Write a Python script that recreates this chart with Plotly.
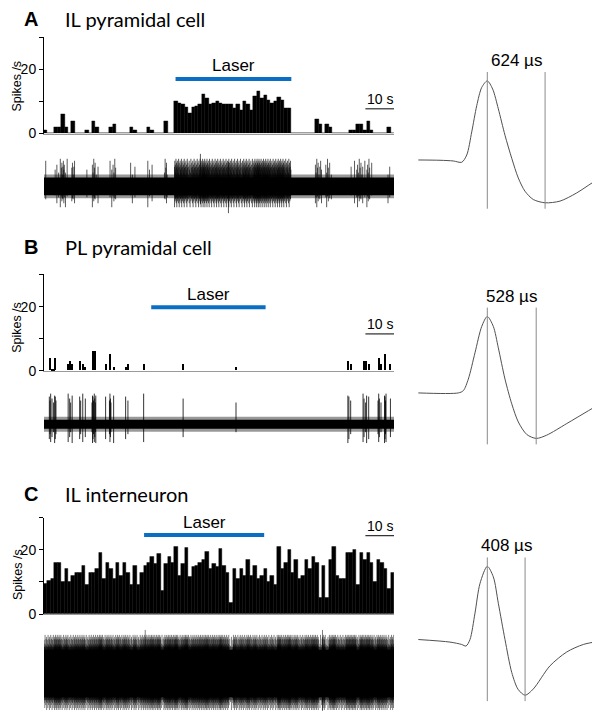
import plotly.graph_objects as go

# page is shown with an 8 px body margin, so the figure is placed 8 px in
OFF = 8
W, H = 600 - OFF, 720 - OFF

# ---------------- data ----------------
BIN = 1.2          # s, histogram bin (panels A and C)
N_BINS = 102
T_END = BIN * N_BINS

A_RATES = [1, 0, 0, 2, 2, 6, 2, 0, 4, 0, 0, 0, 1, 0, 4, 2, 0, 0, 0, 2,
           3, 0, 0, 0, 0, 2, 1, 0, 0, 0, 2, 1, 0, 0, 0, 4, 0, 0,
           10.2, 9.5, 9.2, 8.2, 6.4, 8.2, 8.5, 9.2, 12.3, 11, 9, 9.5, 10.2, 9.5, 9, 9, 9, 8, 9, 7.3,
           10.2, 9.2, 7.3, 11.5, 13.3, 11, 12, 10.5, 9.5, 10.2, 11.2, 10.5, 8, 8,
           0, 0, 0, 0, 0, 0, 0, 4.5, 3, 0, 3, 2, 0, 0, 0, 0, 0, 1, 1, 3, 3, 1, 4, 1,
           0, 0, 0, 0, 2, 0]

B_TIMES = [1.75, 2.45, 3.0, 3.6, 8.1, 8.8, 9.5, 12.3, 13.2, 14.1, 16.7, 17.5, 21.2, 22.8, 24.0,
           28.2, 29.0, 34.5, 48.3, 66.8, 106.1, 106.9, 111.4, 112.3, 113.2, 116.7, 117.5,
           119.0, 120.8]
B_RATES = [4, 0.5, 0.5, 4, 2, 3, 2, 3, 2, 1, 6, 6, 2, 5, 1, 1, 2, 2, 2, 1, 3, 2, 3, 3, 2, 4, 2, 5, 2]
B_BAR_W = 0.7

C_RATES = [9.5, 10.5, 11, 16, 16, 10, 14, 10, 12, 13, 13, 15, 9, 13, 13, 14, 19, 11, 16, 14,
           11, 16, 12, 16, 13, 9, 15, 9, 13, 15, 16, 18, 15.7, 18.8, 7.3, 15.7, 18, 16, 21, 12,
           15.7, 20.8, 11.6, 14.6, 15, 16, 17, 19.3, 14, 15.7, 14.6, 20.3, 15, 13, 3.4,
           14, 11, 14, 12, 17, 12, 15, 11, 12, 14, 10, 12, 9, 21, 14, 16, 20, 13, 17, 11,
           12, 17, 14, 18, 16,
           5, 15, 5, 17, 21, 12, 11, 11, 19, 19, 20, 9, 19, 17, 19, 16, 10, 17, 16, 14, 8, 13]

LASER_A = (46, 86.5)
LASER_B = (37.5, 77.5)
LASER_C = (35, 77)
SCALE_BAR_S = 10

# raw trace: noise band half-width and spike amplitude cycles (trace units)
A_NOISE, B_NOISE, C_NOISE = 9, 4.5, 24
A_UP = [26, 17, 22, 14, 28, 19, 24, 12, 20]
A_DOWN = [13, 9, 17, 11, 21, 10, 15, 12]
B_UP = [28, 24, 31, 26, 22, 29]
B_DOWN = [15, 10, 18, 13, 8, 19]
C_UP = [34, 27, 30, 39, 26, 29, 35, 28, 37, 25]
C_DOWN = [30, 25, 35, 27, 24, 32, 26, 29, 37, 25]
A_BIG_T, A_BIG_UP, A_BIG_DOWN = [54.7, 64.5], [33, 25], [18, 27]
C_BIG_T, C_BIG_UP, C_BIG_DOWN = [35.4, 97.4], [44, 44], [24, 38]

# spike waveforms: time (us, relative to peak), amplitude
WAVE_A_T = [-745, -511, -367, -276, -222, -168, -114, -60, 0, 58, 119, 191, 264, 335, 407, 497, 624, 785, 966, 1217, 1433]
WAVE_A_V = [0, -0.3, -1, -2.3, 5, 28.4, 55, 73.4, 80, 71.7, 51.7, 25, 1.7, -18.3, -31.6, -40, -43.3, -41.6, -33.3, -18.3, -10.3]
WAVE_B_T = [-745, -313, -259, -205, -133, -60, 0, 65, 119, 191, 264, 335, 426, 528, 642, 858, 1217]
WAVE_B_V = [0, 0, 2.3, 14, 40.6, 67.3, 77.3, 67.3, 45.6, 14, -11, -29.4, -42, -46, -42.7, -31, -11]
WAVE_C_T = [-745, -403, -276, -230, -187, -133, -79, 0, 65, 119, 191, 264, 332, 408, 497, 677, 858, 1037, 1217]
WAVE_C_V = [0, -2.6, -5, -6.6, 0, 26.7, 56.7, 74, 63.4, 36.7, 0, -33.3, -50.3, -56.3, -50, -26.6, -12.6, -5, -1.6]
DURATIONS = [624, 528, 408]

TITLES = [("A", "IL pyramidal cell"), ("B", "PL pyramidal cell"), ("C", "IL interneuron")]

# ---------------- layout helpers ----------------
BLUE = "#0A6FC4"
SANS = "Liberation Sans, Arial, sans-serif"
HIST_X = (44, 394)


def xd(a, b):
    return [max(0, (a - OFF) / W), min(1, (b - OFF) / W)]


def yd(top, bot):
    return [max(0, 1 - (bot - OFF) / H), min(1, 1 - (top - OFF) / H)]


def px(x):
    return (x - OFF) / W


def py(y):
    return 1 - (y - OFF) / H


def spikes(starts, rates, width, up, down, big_t=(), big_up=(), big_down=()):
    xs, ys = [], []
    k = 0
    for t0, r in zip(starts, rates):
        if r <= 0:
            continue
        n = max(1, int(round(r * width)))
        for j in range(n):
            t = t0 + (j + 0.5) * width / n
            xs += [t, t, None]
            ys += [-down[k % len(down)], up[k % len(up)], None]
            k += 1
    for t, u, d in zip(big_t, big_up, big_down):
        xs += [t, t, None]
        ys += [-d, u, None]
    return xs, ys


fig = go.Figure()
layout = dict(width=W, height=H, margin=dict(l=0, r=0, t=0, b=0),
              paper_bgcolor="white", plot_bgcolor="rgba(0,0,0,0)",
              showlegend=False, bargap=0)
annotations, shapes = [], []

# panel geometry (page pixels)
PANELS = [
    dict(hist=(37.5, 135), trace=(148, 229, 188.5), wave=(40, 240, 161.7), title_y=19.5, ylab_y=87,
         laser_y=17, scale_y=7.7),
    dict(hist=(277.5, 375), trace=(389, 469, 429), wave=(280, 480, 397.3), title_y=250, ylab_y=331,
         laser_y=19.8, scale_y=11.5),
    dict(hist=(523.5, 621), trace=(630, 720, 681), wave=(500, 720, 646.7), title_y=500, ylab_y=581,
         laser_y=24.6, scale_y=24.4),
]

hist_bins = [(i + 0.5) * BIN for i in range(N_BINS)]
bin_starts = [i * BIN for i in range(N_BINS)]
lasers = [LASER_A, LASER_B, LASER_C]
waves = [(WAVE_A_T, WAVE_A_V), (WAVE_B_T, WAVE_B_V), (WAVE_C_T, WAVE_C_V)]
noise = [A_NOISE, B_NOISE, C_NOISE]
spk = [
    spikes(bin_starts, A_RATES, BIN, A_UP, A_DOWN, A_BIG_T, A_BIG_UP, A_BIG_DOWN),
    spikes(B_TIMES, B_RATES, B_BAR_W, B_UP, B_DOWN),
    spikes(bin_starts, C_RATES, BIN, C_UP, C_DOWN, C_BIG_T, C_BIG_UP, C_BIG_DOWN),
]
spike_alpha = [0.65, 0.8, 0.5]

for p, P in enumerate(PANELS):
    n = 3 * p
    hx, hy = ("x" if n == 0 else "x%d" % (n + 1)), ("y" if n == 0 else "y%d" % (n + 1))
    tx, ty = "x%d" % (n + 2), "y%d" % (n + 2)
    wx, wy = "x%d" % (n + 3), "y%d" % (n + 3)
    hxk = "xaxis" if n == 0 else "xaxis%d" % (n + 1)
    hyk = "yaxis" if n == 0 else "yaxis%d" % (n + 1)

    # ---- histogram ----
    if p == 1:
        fig.add_trace(go.Bar(x=[t + B_BAR_W / 2 for t in B_TIMES], y=B_RATES, width=B_BAR_W,
                             marker=dict(color="black", line=dict(width=0)), xaxis=hx, yaxis=hy))
    else:
        rates = A_RATES if p == 0 else C_RATES
        fig.add_trace(go.Bar(x=hist_bins, y=rates, width=BIN,
                             marker=dict(color="black", line=dict(color="black", width=0.4)),
                             xaxis=hx, yaxis=hy))
    layout[hxk] = dict(domain=xd(*HIST_X), range=[0, T_END], anchor=hy, showgrid=False,
                       zeroline=False, showticklabels=False, ticks="", showline=True,
                       linecolor="#9a9a9a", linewidth=1)
    layout[hyk] = dict(domain=yd(*P["hist"]), range=[0, 30], anchor=hx, showgrid=False,
                       zeroline=False, showline=True, linecolor="black", linewidth=1,
                       ticks="outside", ticklen=4, tickcolor="black", tickwidth=1,
                       tickvals=[0, 10, 20, 30], ticktext=["0", "", "20", ""],
                       tickfont=dict(family=SANS, size=14, color="black"))

    # laser bar + label
    l0, l1 = lasers[p]
    shapes.append(dict(type="line", xref=hx, yref=hy, x0=l0, x1=l1, y0=P["laser_y"], y1=P["laser_y"],
                       line=dict(color=BLUE, width=4)))
    annotations.append(dict(text="Laser", xref=hx, yref=hy, x=(l0 + l1) / 2, y=P["laser_y"],
                            yshift=13, showarrow=False, xanchor="center", yanchor="middle",
                            font=dict(family=SANS, size=17, color="black")))
    # 10 s scale bar
    s1 = T_END
    s0 = s1 - SCALE_BAR_S
    shapes.append(dict(type="line", xref=hx, yref=hy, x0=s0, x1=s1, y0=P["scale_y"], y1=P["scale_y"],
                       line=dict(color="black", width=1)))
    annotations.append(dict(text="10 s", xref=hx, yref=hy, x=(s0 + s1) / 2, y=P["scale_y"],
                            yshift=10, showarrow=False, xanchor="center", yanchor="middle",
                            font=dict(family=SANS, size=14, color="black")))

    # ---- raw trace ----
    top, bot, ctr = P["trace"]
    nb = noise[p]
    fr = nb + 3
    fig.add_trace(go.Scatter(x=[0, T_END, T_END, 0, 0], y=[fr, fr, -fr, -fr, fr], fill="toself",
                             fillcolor="rgba(0,0,0,0.4)", line=dict(width=0), mode="lines",
                             hoverinfo="skip", xaxis=tx, yaxis=ty))
    fig.add_trace(go.Scatter(x=[0, T_END, T_END, 0, 0], y=[nb, nb, -nb, -nb, nb], fill="toself",
                             fillcolor="black", line=dict(width=0), mode="lines",
                             hoverinfo="skip", xaxis=tx, yaxis=ty))
    sx, sy = spk[p]
    fig.add_trace(go.Scatter(x=sx, y=sy, mode="lines",
                             line=dict(color="rgba(0,0,0,%.2f)" % spike_alpha[p], width=1),
                             hoverinfo="skip", xaxis=tx, yaxis=ty))
    layout["xaxis%d" % (n + 2)] = dict(domain=xd(*HIST_X), range=[0, T_END], anchor=ty, visible=False)
    layout["yaxis%d" % (n + 2)] = dict(domain=yd(top, bot), range=[ctr - bot, ctr - top], anchor=tx,
                                       visible=False)

    # ---- waveform ----
    wt, wv = waves[p]
    wtop, wbot, wbase = P["wave"]
    us_per_px = 10.8
    fig.add_trace(go.Scatter(x=wt, y=wv, mode="lines",
                             line=dict(color="#505050", width=1, shape="spline", smoothing=0.8),
                             hoverinfo="skip", xaxis=wx, yaxis=wy))
    dur = DURATIONS[p]
    vtop, vbot = max(wv) + 9, min(wv) - 6
    for xv in (0, dur):
        shapes.append(dict(type="line", xref=wx, yref=wy, x0=xv, x1=xv, y0=vbot, y1=vtop,
                           line=dict(color="#8a8a8a", width=1)))
    annotations.append(dict(text="%d \u00b5s" % dur, xref=wx, yref=wy, x=dur / 2, y=vtop, yshift=0,
                            showarrow=False, xanchor="center", yanchor="bottom",
                            font=dict(family=SANS, size=17, color="black")))
    layout["xaxis%d" % (n + 3)] = dict(domain=xd(400, 600),
                                       range=[(400 - 487.3) * us_per_px, (600 - 487.3) * us_per_px],
                                       anchor=wy, visible=False)
    layout["yaxis%d" % (n + 3)] = dict(domain=yd(wtop, wbot), range=[wbase - wbot, wbase - wtop],
                                       anchor=wx, visible=False)

    # ---- titles and y label ----
    letter, title = TITLES[p]
    annotations.append(dict(text="<b>%s</b>" % letter, x=px(31), y=py(P["title_y"]), xref="paper",
                            yref="paper", xanchor="center", yanchor="middle", showarrow=False,
                            font=dict(family=SANS, size=20, color="black")))
    annotations.append(dict(text=title, x=px(63), y=py(P["title_y"]), xref="paper", yref="paper",
                            xanchor="left", yanchor="middle", showarrow=False,
                            font=dict(family="Lato", size=20, color="black")))
    annotations.append(dict(text="Spikes /s", x=px(8.5), y=py(P["ylab_y"]), xref="paper",
                            yref="paper", xanchor="left", yanchor="middle", textangle=-90,
                            showarrow=False, font=dict(family=SANS, size=12.5, color="black")))

layout["annotations"] = annotations
layout["shapes"] = shapes
fig.update_layout(**layout)
fig.write_html("out.html")
